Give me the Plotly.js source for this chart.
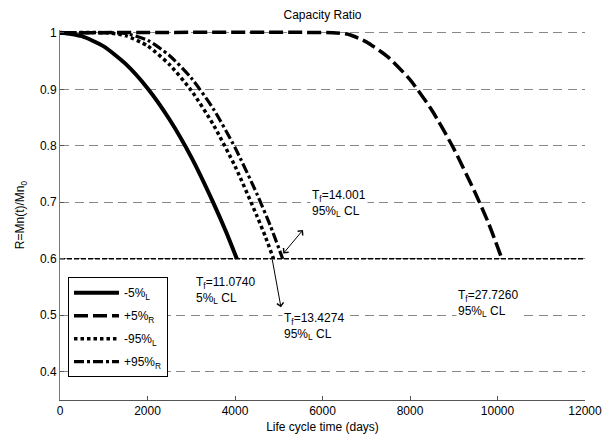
<!DOCTYPE html>
<html>
<head>
<meta charset="utf-8">
<script src="https://cdn.plot.ly/plotly-3.0.1.min.js"></script>
<style>html,body{margin:0;padding:0;background:#fff;}#chart{width:602px;height:437px;}</style>
</head>
<body>
<div id="chart"></div>
<script>
// ---- data ----
var seriesNames = ['-5%<sub>L</sub>', '+5%<sub>R</sub>', '-95%<sub>L</sub>', '+95%<sub>R</sub>'];

var tMinus5 = [0, 250, 500, 1000, 1500, 2000, 2500, 3000, 3500, 3800, 4042];
var rMinus5 = [1, 0.998, 0.994, 0.976, 0.945, 0.902, 0.847, 0.780, 0.700, 0.647, 0.600];

var tPlus5 = [0, 6240, 6600, 7000, 7500, 8000, 8500, 9000, 9500, 9800, 10100];
var rPlus5 = [1, 1, 0.997, 0.984, 0.957, 0.917, 0.863, 0.795, 0.715, 0.662, 0.600];

var tMinus95 = [0, 1080, 1500, 2000, 2500, 3000, 3500, 4000, 4500, 4700, 4880];
var rMinus95 = [1, 1, 0.995, 0.977, 0.944, 0.898, 0.838, 0.764, 0.676, 0.638, 0.600];

var tPlus95 = [0, 1310, 1500, 2000, 2500, 3000, 3500, 4000, 4500, 4800, 5090];
var rPlus95 = [1, 1, 0.999, 0.987, 0.960, 0.920, 0.866, 0.797, 0.715, 0.660, 0.600];

var thresholdT = [0, 12000];
var thresholdR = [0.6, 0.6];

var xTicks = [0, 2000, 4000, 6000, 8000, 10000, 12000];
var yTicks = [0.4, 0.5, 0.6, 0.7, 0.8, 0.9, 1];

var labelTexts = [
  'T<sub>f</sub>=14.001<br>95%<sub>L</sub> CL',
  'T<sub>f</sub>=11.0740<br>5%<sub>L</sub> CL',
  'T<sub>f</sub>=13.4274<br>95%<sub>L</sub> CL',
  'T<sub>f</sub>=27.7260<br>95%<sub>L</sub> CL'
];
var labelX = [5714, 3063, 5074, 9051];
var labelY = [0.6975, 0.543, 0.480, 0.520];

// ---- traces ----
var FONT = 'Liberation Sans, Arial, Helvetica, sans-serif';
var FS = 12;
var traces = [
  {x: thresholdT, y: thresholdR, mode: 'lines', showlegend: false, hoverinfo: 'skip',
   line: {color: '#000', width: 1.6, dash: '5px,2px'}},
  {x: tMinus5, y: rMinus5, name: seriesNames[0], mode: 'lines', legendgroup: 'a',
   line: {color: '#000', width: 4, shape: 'spline', smoothing: 0.6}},
  {x: tPlus5, y: rPlus5, name: seriesNames[1], mode: 'lines', legendgroup: 'b',
   line: {color: '#000', width: 3.5, dash: '14px,5px', shape: 'spline', smoothing: 0.6}},
  {x: tMinus95, y: rMinus95, name: seriesNames[2], mode: 'lines', legendgroup: 'c',
   line: {color: '#000', width: 3.5, dash: '3.5px,3px', shape: 'spline', smoothing: 0.6}},
  {x: tPlus95, y: rPlus95, name: seriesNames[3], mode: 'lines', legendgroup: 'd',
   line: {color: '#000', width: 3.2, dash: '10px,3px,3px,3px', shape: 'spline', smoothing: 0.6}}
];

var annotations = [];
for (var i = 0; i < labelTexts.length; i++) {
  annotations.push({x: labelX[i], y: labelY[i], xref: 'x', yref: 'y', text: labelTexts[i],
    showarrow: false, xanchor: 'left', yanchor: 'middle', align: 'left',
    bgcolor: '#fff', font: {family: FONT, size: FS, color: '#000'}});
}
// arrows
annotations.push({x: 5554, y: 0.651, ax: 5074, ay: 0.6066, axref: 'x', ayref: 'y', xref: 'x', yref: 'y',
  text: '', showarrow: true, arrowhead: 4, arrowsize: 1.3, arrowwidth: 1, arrowcolor: '#000', arrowside: 'end+start', startarrowhead: 4, startarrowsize: 1.3});
annotations.push({x: 5051, y: 0.514, ax: 4846, ay: 0.601, axref: 'x', ayref: 'y', xref: 'x', yref: 'y',
  text: '', showarrow: true, arrowhead: 4, arrowsize: 1.3, arrowwidth: 1, arrowcolor: '#000'});

var layout = {
  width: 602, height: 437,
  margin: {l: 60, r: 17, t: 30, b: 37, pad: 0},
  paper_bgcolor: '#fff', plot_bgcolor: '#fff',
  font: {family: FONT, size: FS, color: '#000'},
  title: {text: 'Capacity Ratio', font: {family: FONT, size: FS, color: '#000'},
          x: 0.5, xanchor: 'center', xref: 'paper', y: 1 - 15 / 437, yanchor: 'middle', yref: 'container'},
  xaxis: {range: [0, 12000], tickvals: xTicks, tickformat: 'd', ticks: 'inside', ticklen: 4,
          tickcolor: '#555', showline: true, linecolor: '#555', linewidth: 1, showgrid: false,
          zeroline: false, tickfont: {size: FS}, ticklabeloverflow: 'allow',
          title: {text: 'Life cycle time (days)', font: {size: FS}, standoff: 5}},
  yaxis: {range: [0.35, 1.005], tickvals: yTicks, ticks: 'inside', ticklen: 4,
          tickcolor: '#555', showline: true, linecolor: '#777', linewidth: 1,
          showgrid: true, gridcolor: '#888', gridwidth: 1, griddash: '9px,5.5px',
          zeroline: false, tickfont: {size: FS},
          title: {text: 'R=Mn(t)/Mn<sub>0</sub>', font: {size: FS}, standoff: 12}},
  legend: {x: 0.0152, y: 0.332, xanchor: 'left', yanchor: 'top', bgcolor: '#fff',
           bordercolor: '#000', borderwidth: 1, font: {size: FS}, itemwidth: 45,
           traceorder: 'grouped', tracegroupgap: 4},
  annotations: annotations,
  showlegend: true
};

Plotly.newPlot('chart', traces, layout, {staticPlot: true, displayModeBar: false});
</script>
</body>
</html>
